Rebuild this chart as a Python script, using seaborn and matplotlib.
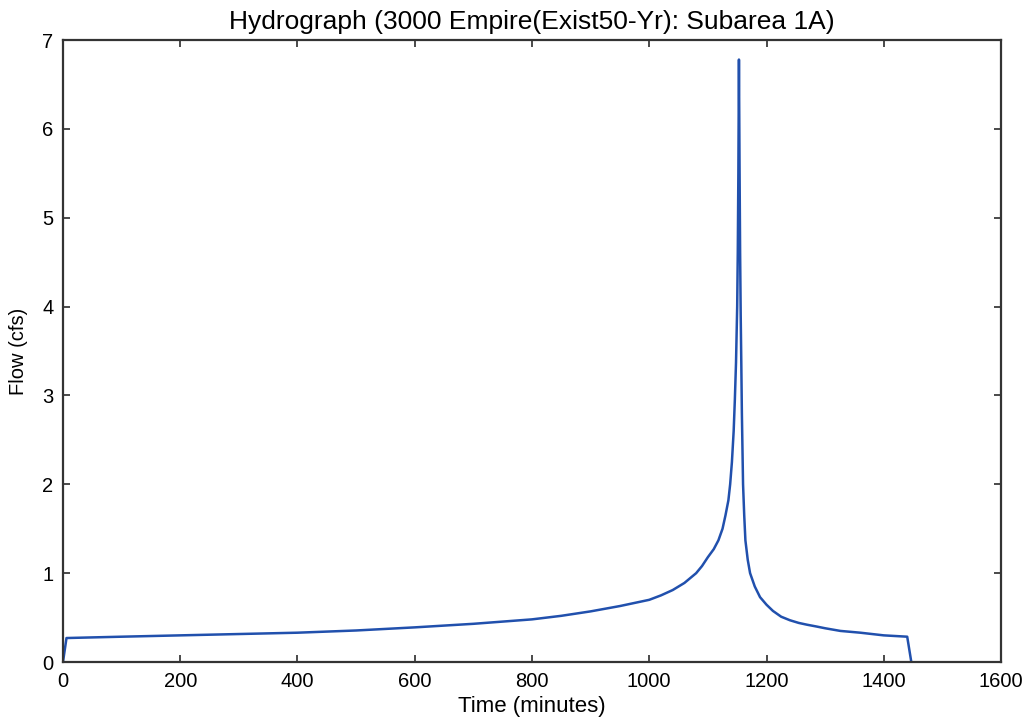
import matplotlib
matplotlib.use("Agg")
import matplotlib.pyplot as plt
import seaborn as sns
import pandas as pd

# hydrograph
time_min = [0, 6, 100, 200, 300, 400, 500, 600, 700, 800, 850, 900, 950,
            1000, 1020, 1040, 1060, 1080, 1090, 1100, 1110, 1118, 1125, 1130,
            1135, 1138, 1141, 1144, 1146, 1148, 1150, 1151, 1152, 1153,
            1154, 1155, 1156, 1157, 1158, 1160, 1162, 1164, 1168, 1172,
            1180, 1189, 1200, 1211, 1225, 1240, 1255, 1269, 1285, 1300,
            1326, 1360, 1400, 1440, 1447]
flow_cfs = [0, 0.27, 0.285, 0.30, 0.315, 0.33, 0.355, 0.39, 0.43, 0.48, 0.52,
            0.57, 0.63, 0.70, 0.75, 0.81, 0.89, 1.0, 1.08, 1.18, 1.27, 1.37,
            1.5, 1.65, 1.82, 2.0, 2.25, 2.6, 2.95, 3.37, 4.0, 4.6, 5.5, 6.78,
            5.6, 4.6, 3.9, 3.37, 2.8, 2.0, 1.65, 1.37, 1.15, 1.0,
            0.85, 0.73, 0.645, 0.575, 0.51, 0.47, 0.44, 0.42, 0.40, 0.38,
            0.35, 0.33, 0.30, 0.285, 0]
x_ticks = [0, 200, 400, 600, 800, 1000, 1200, 1400, 1600]
y_ticks = [0, 1, 2, 3, 4, 5, 6, 7]

df = pd.DataFrame({'Time': time_min, 'Flow': flow_cfs})

sns.set_theme(style='white', rc={
    'xtick.direction': 'in', 'ytick.direction': 'in',
    'xtick.top': True, 'ytick.right': True,
    'xtick.bottom': True, 'ytick.left': True,
    'axes.edgecolor': '#333333', 'axes.linewidth': 1.6,
    'xtick.major.size': 5, 'ytick.major.size': 5,
    'xtick.color': '#333333', 'ytick.color': '#333333',
    'text.color': 'black', 'axes.labelcolor': 'black',
})
plt.rcParams['font.family'] = ['Liberation Sans', 'DejaVu Sans']

fig = plt.figure(figsize=(10.29, 7.21), dpi=100)
ax = fig.add_axes([0.0612, 0.0818, 0.9116, 0.8627])
sns.lineplot(data=df, x='Time', y='Flow', sort=False, estimator=None,
             color='#2150ad', linewidth=1.8, ax=ax)

ax.set_xlim(0, 1600)
ax.set_ylim(0, 7)
ax.set_xticks(x_ticks)
ax.set_yticks(y_ticks)
ax.tick_params(labelsize=14.5, colors='#333333', labelcolor='black')
ax.tick_params(axis='x', pad=7)
ax.tick_params(axis='y', pad=7)
ax.set_xlabel('Time (minutes)', fontsize=16, labelpad=4)
ax.set_ylabel('Flow (cfs)', fontsize=14.5, labelpad=10)
ax.set_title('Hydrograph (3000 Empire(Exist50-Yr): Subarea 1A)', fontsize=19, pad=8)

fig.savefig('out.png', dpi=100)
plt.close(fig)
